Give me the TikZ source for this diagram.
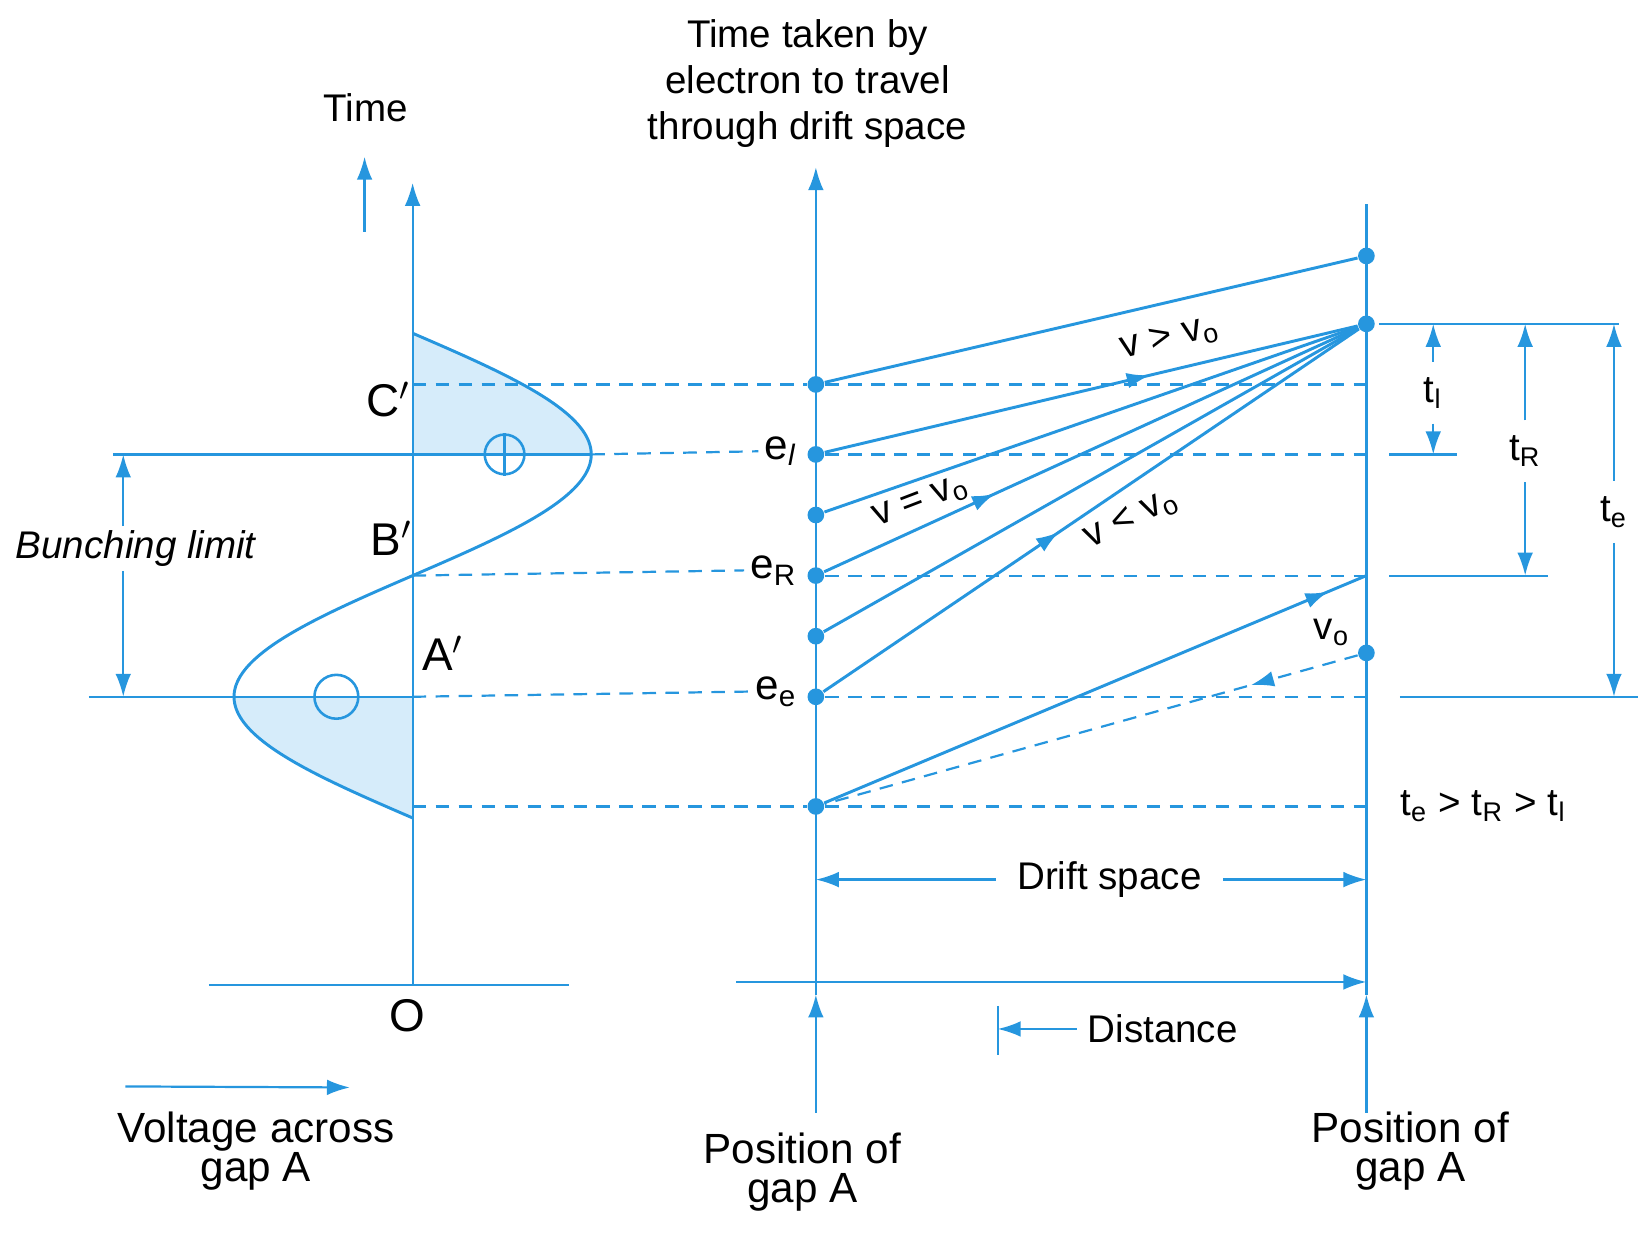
\documentclass[tikz,border=0pt]{standalone}
\usepackage{fontspec}
\setmainfont{Liberation Sans}
\usepackage{tikz}
\usetikzlibrary{arrows.meta,positioning,calc,decorations.markings}
\definecolor{lineblue}{RGB}{38,150,222}
\definecolor{fillblue}{RGB}{214,236,250}
\tikzset{
  axisline/.style={lineblue, line width=0.6pt},
  tip/.style={-{Latex[length=2.2mm,width=1.5mm]}},
  guide/.style={lineblue, line width=0.6pt, dash pattern=on 1.3mm off 0.9mm},
  beam/.style={lineblue, line width=0.8pt},
  edot/.style={circle, fill=lineblue, inner sep=0pt, minimum size=1.6mm},
  ring/.style={circle, draw=lineblue, line width=0.7pt, inner sep=0pt},
  lbl/.style={font=\fontsize{10.5}{12}\selectfont, inner sep=1pt},
  ptlbl/.style={font=\fontsize{12.5}{14}\selectfont, inner sep=1pt},
  elbl/.style={font=\fontsize{11.5}{13}\selectfont, inner sep=1.5pt},
  biglbl/.style={font=\fontsize{11.5}{10.8}\selectfont, align=center, inner sep=0pt},
  midtip/.style={postaction={decorate}, decoration={markings, mark=at position #1 with {\arrow{Latex[length=2.2mm,width=1.5mm]}}}}
}

\begin{document}
\begin{tikzpicture}[x=0.1mm, y=-0.1mm]
  \useasboundingbox (0,0) rectangle (1568,1188);

  % voltage across gap A
  \fill[fillblue] plot[domain=319:435, samples=30] ({395+171*sin(0.77586*(\x-319))}, \x) -- (395,435) -- cycle;
  \fill[fillblue] plot[domain=667:783, samples=30] ({395+171*sin(0.77586*(\x-319))}, \x) -- (395,667) -- cycle;
  \draw[beam] plot[domain=319:783, samples=90, smooth] ({395+171*sin(0.77586*(\x-319))}, \x);

  \coordinate (O) at (395,943);
  \coordinate (ttop) at (395,175);
  \coordinate (Cp) at (395,368);
  \coordinate (pk) at (566,435);
  \coordinate (Bp) at (395,551);
  \coordinate (Ap) at (395,667);
  \coordinate (lowp) at (395,772);
  \coordinate (bl) at (200,943);
  \coordinate (br) at (545,943);
  \draw[axisline,tip] (O) -- (ttop);
  \draw[axisline] (bl) -- (br);

  \node[ring, minimum size=3.8mm] (plus) at (483,435) {};
  \draw[axisline] (plus.north) -- (plus.south);
  \node[ring, minimum size=4.2mm] (minus) at (322,667) {};
  \coordinate (hl) at (108,435);
  \coordinate (he) at (85,667);
  \draw[axisline] (hl) -- (pk);
  \draw[axisline] (he) -- (Ap);

  \node[ptlbl, anchor=east] (Clbl) at (397,382) {C$'$};
  \node[ptlbl, anchor=east] (Blbl) at (399,515) {B$'$};
  \node[ptlbl, anchor=west] (Albl) at (400,625) {A$'$};
  \node[ptlbl] (Olbl) at (390,972) {O};

  \node[lbl] (bunch) at (130,525) {\itshape Bunching limit};
  \coordinate (bt) at (118,435);
  \coordinate (bb) at (118,667);
  \draw[axisline,tip] (bunch.north -| bt) -- (bt);
  \draw[axisline,tip] (bunch.south -| bb) -- (bb);

  \node[lbl] (time) at (350,103) {Time};
  \coordinate (ta0) at (349,222);
  \coordinate (ta1) at (349,150);
  \draw[axisline,tip] (ta0) -- (ta1);

  \coordinate (va0) at (120,1040);
  \coordinate (va1) at (335,1041);
  \draw[axisline,tip] (va0) -- (va1);
  \node[biglbl] (volt) at (245,1102) {Voltage across\\gap A};

  % position of gap A (entry)
  \coordinate (mbot) at (781,1065);
  \coordinate (mmid) at (781,952);
  \coordinate (mtip) at (781,160);
  \draw[axisline,tip] (mbot) -- (mmid);
  \draw[axisline,tip] (mmid) -- (mtip);
  \node[lbl, align=center, font=\fontsize{10.5}{12.6}\selectfont] (ttl) at (773,80) {Time taken by\\electron to travel\\through drift space};
  \node[biglbl] (posA) at (768,1122) {Position of\\gap A};

  % position of gap A (exit)
  \coordinate (rbot) at (1308,1065);
  \coordinate (rmid) at (1308,952);
  \coordinate (rtop) at (1308,195);
  \draw[axisline,tip] (rbot) -- (rmid);
  \draw[axisline] (rmid) -- (rtop);
  \node[biglbl] (posB) at (1350,1102) {Position of\\gap A};

  % electrons leaving gap A
  \foreach \n/\y in {C/368, l/435, a/493, R/551, b/609, e/667, z/772}
    \node[edot] (m\n) at (781,\y) {};
  \node[edot] (rA) at (1308,245) {};
  \node[edot] (rF) at (1308,310) {};
  \node[edot] (rV) at (1308,625) {};
  \foreach \n/\y in {C/368, l/435, R/551, e/667, z/772}
    \coordinate (r\n) at (1308,\y);

  \node[elbl, anchor=east] (el) at (769,432) {e\textsubscript{\textit{l}}};
  \node[elbl, anchor=east] (eR) at (769,546) {e\textsubscript{R}};
  \node[elbl, anchor=east] (ee) at (769,662) {e\textsubscript{e}};

  \draw[guide] (Cp) -- (mC) -- (rC);
  \draw[guide] (pk) -- (el.west);
  \draw[guide] (ml) -- (rl);
  \draw[guide] (Bp) -- (eR.west);
  \draw[guide] (mR) -- (rR);
  \draw[guide] (Ap) -- (ee.west);
  \draw[guide] (me) -- (re);
  \draw[guide] (lowp) -- (mz) -- (rz);

  \draw[beam] (mC) -- (rA);
  \draw[beam, midtip=0.61] (ml) -- (rF);
  \draw[beam] (ma) -- (rF);
  \draw[beam, midtip=0.32] (mR) -- (rF);
  \draw[beam] (mb) -- (rF);
  \draw[beam, midtip=0.44] (me) -- (rF);
  \draw[beam, midtip=0.93] (mz) -- (rR);
  \draw[guide, midtip=0.2] (rV) -- (mz);

  \node[lbl, rotate=14] at (1120,324) {v > v\textsubscript{o}};
  \node[lbl, rotate=21] at (882,481) {v = v\textsubscript{o}};
  \node[lbl, rotate=26] at (1083,497) {v < v\textsubscript{o}};
  \node[lbl] at (1275,605) {v\textsubscript{o}};

  % transit times
  \coordinate (tt0) at (1320,310);
  \coordinate (tt1) at (1550,310);
  \draw[axisline] (tt0) -- (tt1);
  \coordinate (tl0) at (1330,435);
  \coordinate (tl1) at (1395,435);
  \coordinate (tR0) at (1330,551);
  \coordinate (tR1) at (1482,551);
  \coordinate (te0) at (1340,667);
  \coordinate (te1) at (1568,667);
  \draw[axisline] (tl0) -- (tl1);
  \draw[axisline] (tR0) -- (tR1);
  \draw[axisline] (te0) -- (te1);
  \node[lbl, inner ysep=4pt] (tl) at (1372,376) {t\textsubscript{l}};
  \node[lbl, inner ysep=4pt] (tR) at (1460,432) {t\textsubscript{R}};
  \node[lbl, inner ysep=4pt] (te) at (1545,490) {t\textsubscript{e}};
  \draw[axisline,tip] (tl.north) -- (tl.north |- tt0);
  \draw[axisline,tip] (tl.south) -- (tl.south |- tl0);
  \draw[axisline,tip] (tR.north) -- (tR.north |- tt0);
  \draw[axisline,tip] (tR.south) -- (tR.south |- tR0);
  \draw[axisline,tip] (te.north) -- (te.north |- tt0);
  \draw[axisline,tip] (te.south) -- (te.south |- te0);
  \node[lbl] (order) at (1420,772) {t\textsubscript{e} > t\textsubscript{R} > t\textsubscript{l}};

  % drift space and distance
  \node[lbl, inner xsep=2mm] (drift) at (1062,842) {Drift space};
  \draw[axisline,tip] (drift.west) -- (drift.west -| mtip);
  \draw[axisline,tip] (drift.east) -- (drift.east -| rtop);
  \coordinate (d0) at (705,940);
  \draw[axisline,tip] (d0) -- (d0 -| rtop);
  \coordinate (tk0) at (955,963);
  \coordinate (tk1) at (955,1010);
  \draw[axisline] (tk0) -- (tk1);
  \node[lbl, inner xsep=1mm] (dist) at (1113,985) {Distance};
  \draw[axisline,tip] (dist.west) -- (dist.west -| tk0);
\end{tikzpicture}
\end{document}
